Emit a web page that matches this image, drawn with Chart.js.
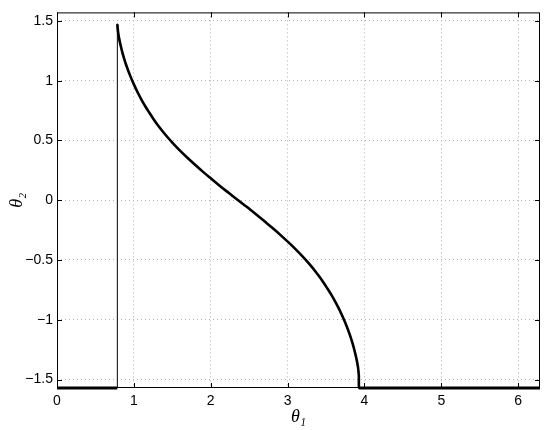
<!DOCTYPE html>
<html>
<head>
<meta charset="utf-8">
<script src="https://cdn.jsdelivr.net/npm/chart.js@4"></script>
<style>
  body { margin: 0; background: #fff; }
  #wrap { width: 550px; height: 430px; }
</style>
</head>
<body>
<div id="wrap"><canvas id="thetaChart"></canvas></div>
<script>
// curve values
const curveX = [0.785, 0.787, 0.79, 0.795, 0.80, 0.812, 0.825, 0.85, 0.875, 0.90, 0.95, 1.00, 1.05, 1.10, 1.15, 1.20, 1.25, 1.30, 1.35, 1.40, 1.45, 1.50, 1.60, 1.70, 1.80, 1.90, 2.00, 2.10, 2.20, 2.28, 2.356,
  2.432, 2.512, 2.612, 2.712, 2.812, 2.912, 3.012, 3.112, 3.212, 3.262, 3.312, 3.362, 3.412, 3.462, 3.512, 3.562, 3.612, 3.662, 3.712, 3.762, 3.812, 3.837, 3.862, 3.887, 3.90, 3.912, 3.917, 3.922, 3.925, 3.9268, 3.927];
const curveY = [1.47, 1.457, 1.433, 1.405, 1.383, 1.341, 1.302, 1.237, 1.181, 1.131, 1.044, 0.969, 0.901, 0.840, 0.784, 0.733, 0.684, 0.638, 0.596, 0.556, 0.518, 0.482, 0.415, 0.353, 0.294, 0.237, 0.183, 0.130, 0.078, 0.038, 0,
  -0.038, -0.078, -0.130, -0.183, -0.237, -0.294, -0.353, -0.415, -0.482, -0.518, -0.556, -0.596, -0.638, -0.684, -0.733, -0.784, -0.840, -0.901, -0.969, -1.044, -1.131, -1.181, -1.237, -1.302, -1.341, -1.383, -1.405, -1.433, -1.457, -1.47, -1.5708];

// jump at theta1 = pi/4 and flat parts at -pi/2
const jumpX = [0.785, 0.785];
const jumpY = [-1.5708, 1.47];
const flatLeftX = [0, 0.785];
const flatRightX = [3.927, 6.2832];
const flatY = [-1.5708, -1.5708];

const xTicks = [0, 1, 2, 3, 4, 5, 6];
const yTicks = [-1.5, -1, -0.5, 0, 0.5, 1, 1.5];

const pts = (xs, ys) => xs.map((x, i) => ({ x: x, y: ys[i] }));

const framePlugin = {
  id: "frame",
  afterDraw(chart) {
    const { ctx, chartArea: a, scales } = chart;
    ctx.save();
    ctx.strokeStyle = "#000";
    ctx.lineWidth = 1;
    ctx.strokeRect(a.left + 0.5, a.top + 0.5, a.right - a.left - 1, a.bottom - a.top - 1);
    ctx.beginPath();
    xTicks.forEach(v => {
      const px = Math.round(scales.x.getPixelForValue(v)) + 0.5;
      ctx.moveTo(px, a.bottom); ctx.lineTo(px, a.bottom - 5);
      ctx.moveTo(px, a.top); ctx.lineTo(px, a.top + 5);
    });
    yTicks.forEach(v => {
      const py = Math.round(scales.y.getPixelForValue(v)) + 0.5;
      ctx.moveTo(a.left, py); ctx.lineTo(a.left + 5, py);
      ctx.moveTo(a.right, py); ctx.lineTo(a.right - 5, py);
    });
    ctx.stroke();
    ctx.restore();
  }
};

const ctx = document.getElementById("thetaChart").getContext("2d");
new Chart(ctx, {
  type: "scatter",
  data: {
    datasets: [
      {
        data: pts(curveX, curveY),
        showLine: true,
        cubicInterpolationMode: "monotone",
        borderColor: "#000",
        backgroundColor: "#000",
        borderWidth: 2.6,
        pointRadius: 0.9,
        pointBorderWidth: 0,
        pointHoverRadius: 0,
        clip: false
      },
      {
        data: pts(jumpX, jumpY),
        showLine: true,
        borderColor: "#000",
        borderWidth: 1,
        pointRadius: 0,
        clip: false
      },
      {
        data: pts(flatLeftX, flatY),
        showLine: true,
        borderColor: "#000",
        borderWidth: 3,
        pointRadius: 0,
        clip: false
      },
      {
        data: pts(flatRightX, flatY),
        showLine: true,
        borderColor: "#000",
        borderWidth: 3,
        pointRadius: 0,
        clip: false
      }
    ]
  },
  options: {
    responsive: true,
    maintainAspectRatio: false,
    animation: false,
    layout: { padding: { top: -3, right: 10, left: 6, bottom: 0 } },
    plugins: {
      legend: { display: false },
      tooltip: { enabled: false }
    },
    scales: {
      x: {
        type: "linear",
        min: 0,
        max: 6.2832,
        afterBuildTicks: s => { s.ticks = xTicks.map(v => ({ value: v })); },
        afterFit: s => { s.height = 42; },
        grid: { color: "#b0b0b0", drawTicks: false, lineWidth: 1 },
        border: { display: false, dash: [1, 3] },
        ticks: {
          color: "#000",
          padding: 5,
          font: { family: "Liberation Sans, Arial", size: 14 },
          callback: v => String(v).replace("-", "\u2212")
        },
        title: {
          display: true,
          text: "\u03B8\u2081",
          color: "#000",
          padding: { top: 0, bottom: 2 },
          font: { family: "Liberation Serif, Times New Roman", size: 18, style: "italic" }
        }
      },
      y: {
        type: "linear",
        min: -1.5708,
        max: 1.5708,
        afterBuildTicks: s => { s.ticks = yTicks.map(v => ({ value: v })); },
        afterFit: s => { s.width = 51; },
        grid: { color: "#b0b0b0", drawTicks: false, lineWidth: 1 },
        border: { display: false, dash: [1, 3] },
        ticks: {
          color: "#000",
          padding: 4,
          font: { family: "Liberation Sans, Arial", size: 14 },
          callback: v => String(v).replace("-", "\u2212")
        },
        title: {
          display: true,
          text: "\u03B8\u2082",
          color: "#000",
          padding: { top: 0, bottom: 2 },
          font: { family: "Liberation Serif, Times New Roman", size: 18, style: "italic" }
        }
      }
    }
  },
  plugins: [framePlugin]
});
</script>
</body>
</html>
